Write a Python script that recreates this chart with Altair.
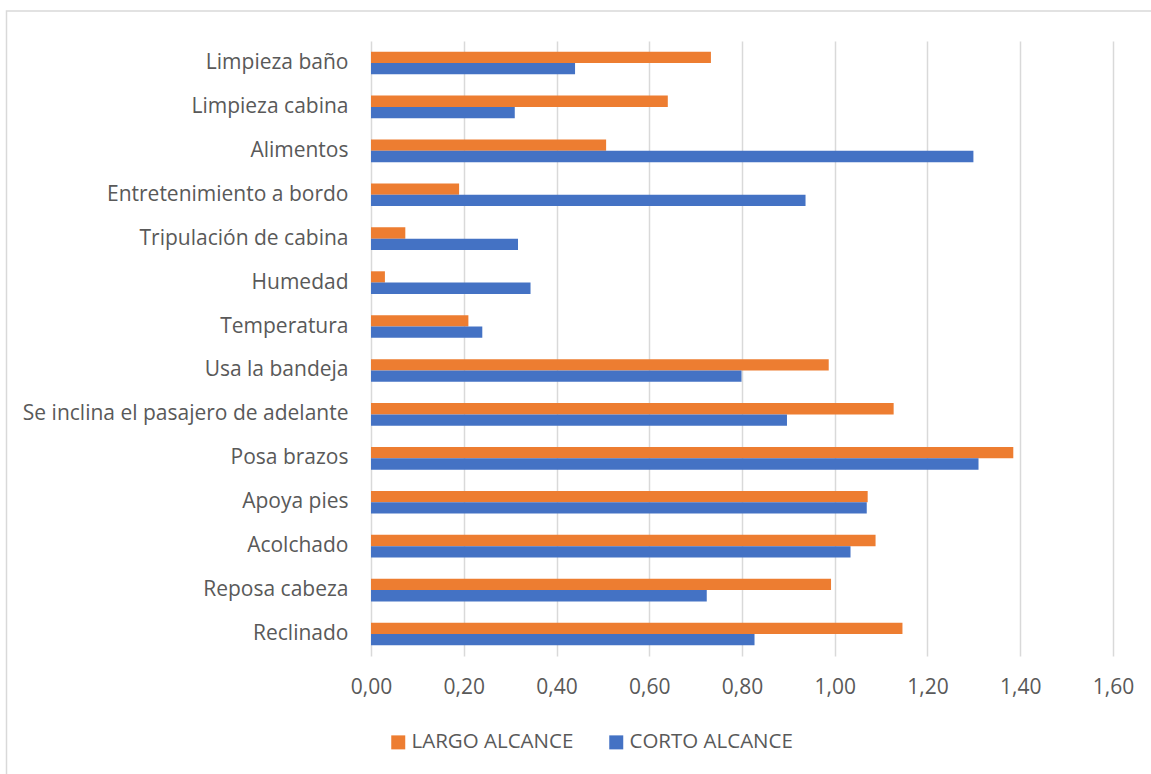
import altair as alt
import pandas as pd

categories = [
    "Limpieza baño", "Limpieza cabina", "Alimentos", "Entretenimiento a bordo",
    "Tripulación de cabina", "Humedad", "Temperatura", "Usa la bandeja",
    "Se inclina el pasajero de adelante", "Posa brazos", "Apoya pies",
    "Acolchado", "Reposa cabeza", "Reclinado",
]
largo = [0.733, 0.640, 0.507, 0.190, 0.074, 0.030, 0.210, 0.987, 1.127, 1.385, 1.071, 1.088, 0.992, 1.146]
corto = [0.440, 0.310, 1.299, 0.937, 0.317, 0.344, 0.240, 0.799, 0.897, 1.310, 1.069, 1.034, 0.724, 0.827]
series = ["LARGO ALCANCE", "CORTO ALCANCE"]
colors = ["#ED7D31", "#4472C4"]
ticks = [0, 0.2, 0.4, 0.6, 0.8, 1.0, 1.2, 1.4, 1.6]

rows = []
for c, l, k in zip(categories, largo, corto):
    rows.append({"cat": c, "serie": series[0], "val": l})
    rows.append({"cat": c, "serie": series[1], "val": k})
df = pd.DataFrame(rows)

FONT = "Open Sans"
TXT = "#595959"

bars = alt.Chart(df).mark_bar(stroke=None).encode(
    x=alt.X("val:Q",
            scale=alt.Scale(domain=[0, 1.6], nice=False, zero=True),
            axis=alt.Axis(values=ticks, title=None, ticks=False, domain=False,
                          grid=True, gridColor="#d9d9d9", gridWidth=1.5,
                          labelExpr="replace(format(datum.value, '.2f'), '.', ',')",
                          labelFont=FONT, labelFontSize=21, labelColor=TXT,
                          labelBaseline="middle", labelPadding=31, labelFlush=False)),
    y=alt.Y("cat:N", sort=categories,
            scale=alt.Scale(paddingInner=0.485, paddingOuter=0.2425),
            axis=alt.Axis(title=None, ticks=False, domain=False, grid=False,
                          labelFont=FONT, labelFontSize=21, labelColor=TXT,
                          labelPadding=23, labelLimit=400)),
    yOffset=alt.YOffset("serie:N", sort=series,
                        scale=alt.Scale(domain=series, paddingInner=0, paddingOuter=0)),
    color=alt.Color("serie:N",
                    scale=alt.Scale(domain=series, range=colors),
                    legend=alt.Legend(title=None, orient="none", direction="horizontal",
                                      legendX=17, legendY=691, padding=0,
                                      symbolType="square", symbolSize=196,
                                      symbolStrokeWidth=0, labelOffset=3,
                                      columnPadding=32, labelLimit=300,
                                      labelFont=FONT, labelFontSize=20.5,
                                      labelColor=TXT)),
)

border = alt.Chart(pd.DataFrame({"a": [0]})).mark_rect(
    fill=None, stroke="#d9d9d9", strokeWidth=1.5
).encode(
    x=alt.value(-364.5), x2=alt.value(790), y=alt.value(-30), y2=alt.value(745)
)

chart = alt.layer(border, bars).properties(
    width=742, height=615,
    autosize=alt.AutoSizeParams(type="none"),
    padding={"left": 371, "top": 41, "right": 38, "bottom": 118},
    background="white",
).configure_view(stroke=None)

chart.save("out.html", embed_options={"renderer": "svg", "actions": False})
